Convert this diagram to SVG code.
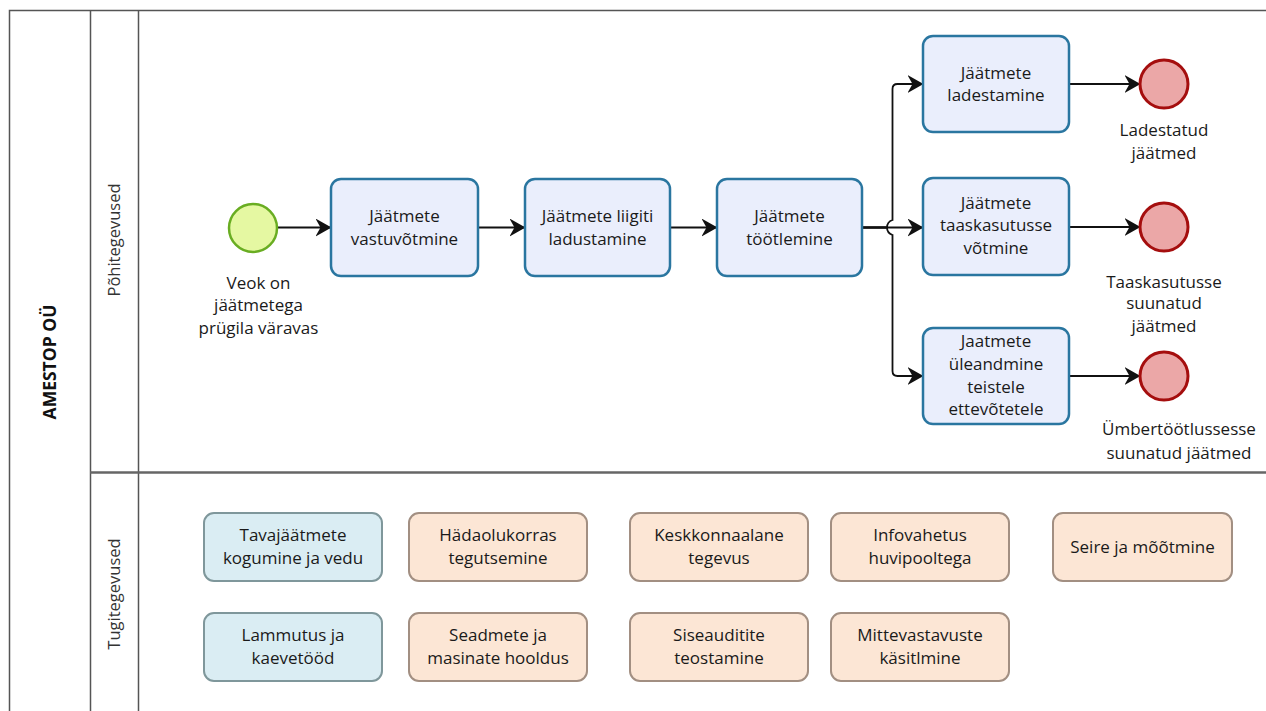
<svg xmlns="http://www.w3.org/2000/svg" width="1266" height="711" viewBox="0 0 1266 711">
<style>
text{font-family:"Open Sans","Noto Sans","DejaVu Sans",sans-serif;font-size:17px;fill:#1a1a1a;text-anchor:middle}
.lane{fill:none;stroke:#555;stroke-width:1.5}
.task{fill:#eaeefc;stroke:#2a76a0;stroke-width:2.5}
.start{fill:#e5f8a2;stroke:#69ad22;stroke-width:2.5}
.end{fill:#eba7a7;stroke:#a50e0e;stroke-width:3}
.sb{fill:#daedf3;stroke:#7f979b;stroke-width:2}
.so{fill:#fce6d5;stroke:#a28f82;stroke-width:2}
.con{fill:none;stroke:#111;stroke-width:1.8}
.lt{font-size:16.5px;fill:#333}
.bt{font-size:17px}
</style>
<defs>
<marker id="arr" viewBox="0 0 16 18" refX="15.5" refY="9" markerWidth="16" markerHeight="18" markerUnits="userSpaceOnUse" orient="auto">
<path d="M0,0 L16,9 L0,18 L5,9 Z" fill="#111"/>
</marker>
</defs>
<rect width="1266" height="711" fill="#fff"/>
<g id="pool">
<path class="lane" d="M9.5,711 V10.5 H1266"/>
<path class="lane" d="M90.5,10.5 V711 M138.5,10.5 V711"/>
<path d="M90,472.5 H1266" stroke="#666" stroke-width="2.5" fill="none"/>
<text transform="translate(55.5,362) rotate(-90)" style="font-weight:bold;font-size:17.5px;fill:#111">AMESTOP OÜ</text>
<text class="lt" transform="translate(120,240) rotate(-90)">Põhitegevused</text>
<text class="lt" transform="translate(120,594) rotate(-90)">Tugitegevused</text>
</g>
<g id="connectors">
<path class="con" d="M277,227.5 H331" marker-end="url(#arr)"/>
<path class="con" d="M478,227.5 H525" marker-end="url(#arr)"/>
<path class="con" d="M670,227.5 H717" marker-end="url(#arr)"/>
<path class="con" d="M862,227.5 H923" marker-end="url(#arr)"/>
<path class="con" d="M862,227.5 H887 Q887,222 892.5,220 V89 Q892.5,84 897.5,84 H923" marker-end="url(#arr)"/>
<path class="con" d="M862,227.5 H887 Q887,233 892.5,235 V371 Q892.5,376 897.5,376 H923" marker-end="url(#arr)"/>
<path class="con" d="M1069,84 H1140" marker-end="url(#arr)"/>
<path class="con" d="M1069,227 H1140" marker-end="url(#arr)"/>
<path class="con" d="M1069,376 H1140" marker-end="url(#arr)"/>
</g>
<g id="start">
<circle class="start" cx="253" cy="228" r="24"/>
<text x="258.5" y="289">Veok on</text>
<text x="258.5" y="311">jäätmetega</text>
<text x="258.5" y="334">prügila väravas</text>
</g>
<g id="t1">
<rect class="task" x="331" y="179" width="147" height="97" rx="10"/>
<text x="404.5" y="222">Jäätmete</text>
<text x="404.5" y="244.5">vastuvõtmine</text>
</g>
<g id="t2">
<rect class="task" x="525" y="179" width="145" height="97" rx="10"/>
<text x="597.5" y="222">Jäätmete liigiti</text>
<text x="597.5" y="244.5">ladustamine</text>
</g>
<g id="t3">
<rect class="task" x="717" y="179" width="145" height="97" rx="10"/>
<text x="789.5" y="222">Jäätmete</text>
<text x="789.5" y="244.5">töötlemine</text>
</g>
<g id="t4">
<rect class="task" x="923" y="36" width="146" height="96" rx="10"/>
<text x="996" y="78.5">Jäätmete</text>
<text x="996" y="100.5">ladestamine</text>
</g>
<g id="t5">
<rect class="task" x="923" y="178" width="146" height="97" rx="10"/>
<text x="996" y="208.5">Jäätmete</text>
<text x="996" y="231">taaskasutusse</text>
<text x="996" y="253.5">võtmine</text>
</g>
<g id="t6">
<rect class="task" x="923" y="328" width="146" height="96" rx="10"/>
<text x="996" y="346.5">Jaatmete</text>
<text x="996" y="369.5">üleandmine</text>
<text x="996" y="392.5">teistele</text>
<text x="996" y="414.5">ettevõtetele</text>
</g>
<g id="e1">
<circle class="end" cx="1164" cy="84" r="24"/>
<text x="1164" y="135.5">Ladestatud</text>
<text x="1164" y="158.5">jäätmed</text>
</g>
<g id="e2">
<circle class="end" cx="1164" cy="227" r="24"/>
<text x="1164" y="287.5">Taaskasutusse</text>
<text x="1164" y="309">suunatud</text>
<text x="1164" y="331.5">jäätmed</text>
</g>
<g id="e3">
<circle class="end" cx="1164" cy="376" r="24"/>
<text x="1179" y="434.5">Ümbertöötlussesse</text>
<text x="1179" y="458.5">suunatud jäätmed</text>
</g>
<g id="s1">
<rect class="sb" x="204" y="513" width="178" height="68" rx="10"/>
<text class="bt" x="293" y="541">Tavajäätmete</text>
<text class="bt" x="293" y="564">kogumine ja vedu</text>
</g>
<g id="s2">
<rect class="so" x="409" y="513" width="178" height="68" rx="10"/>
<text class="bt" x="498" y="541">Hädaolukorras</text>
<text class="bt" x="498" y="564">tegutsemine</text>
</g>
<g id="s3">
<rect class="so" x="630" y="513" width="178" height="68" rx="10"/>
<text class="bt" x="719" y="541">Keskkonnaalane</text>
<text class="bt" x="719" y="564">tegevus</text>
</g>
<g id="s4">
<rect class="so" x="831" y="513" width="178" height="68" rx="10"/>
<text class="bt" x="920" y="541">Infovahetus</text>
<text class="bt" x="920" y="564">huvipooltega</text>
</g>
<g id="s5">
<rect class="so" x="1053" y="513" width="179" height="68" rx="10"/>
<text class="bt" x="1142.5" y="552.5">Seire ja mõõtmine</text>
</g>
<g id="s6">
<rect class="sb" x="204" y="613" width="178" height="68" rx="10"/>
<text class="bt" x="293" y="641">Lammutus ja</text>
<text class="bt" x="293" y="664">kaevetööd</text>
</g>
<g id="s7">
<rect class="so" x="409" y="613" width="178" height="68" rx="10"/>
<text class="bt" x="498" y="641">Seadmete ja</text>
<text class="bt" x="498" y="664">masinate hooldus</text>
</g>
<g id="s8">
<rect class="so" x="630" y="613" width="178" height="68" rx="10"/>
<text class="bt" x="719" y="641">Siseauditite</text>
<text class="bt" x="719" y="664">teostamine</text>
</g>
<g id="s9">
<rect class="so" x="831" y="613" width="178" height="68" rx="10"/>
<text class="bt" x="920" y="641">Mittevastavuste</text>
<text class="bt" x="920" y="664">käsitlmine</text>
</g>
</svg>
